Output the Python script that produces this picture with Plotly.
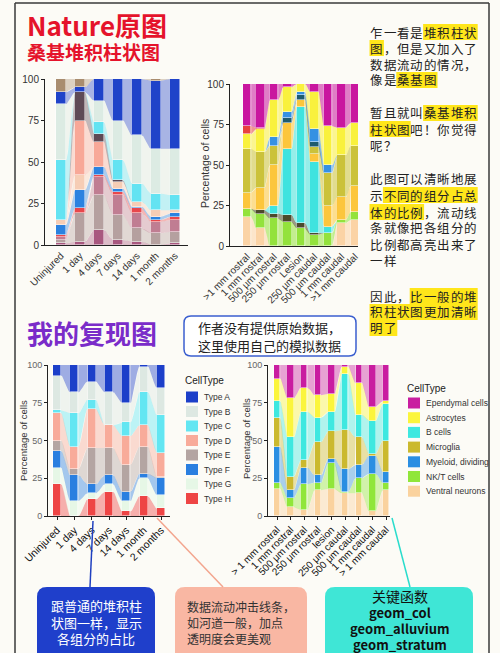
import numpy as np
import plotly.graph_objects as go

W, H = 500, 653

# ---------------- data ----------------
# Chart 1: Nature original (time course)
nat_cats = ["Uninjured", "1 day", "4 days", "7 days", "14 days", "1 month", "2 months"]
nat_groups = ["Dark mauve", "Rosy", "Mauve", "Red", "Blue", "Peach", "Salmon",
              "Dark grey", "Cyan", "Mint", "Dark blue", "Tan"]          # bottom -> top
nat_colors = ["#a8577f", "#b5a09f", "#c07d92", "#e8474c", "#2b82e0", "#f6cdb5",
              "#f8a898", "#5e4a56", "#63e3f2", "#dcebe3", "#1f43c9", "#a98d6f"]
nat_vals = [
    [1, 2, 9, 3, 2, 0, 1],
    [2, 17, 21, 15, 8, 7, 7],
    [2, 0, 11, 12, 9, 7, 7],
    [1, 3, 1, 2, 3, 1, 2],
    [6, 11, 5, 2, 1, 2, 2],
    [3, 9, 0, 4, 3, 4, 2],
    [0, 33, 15, 0, 0, 0, 0],
    [0, 17, 5, 1, 0, 0, 0],
    [36, 0, 7, 12, 11, 10, 9],
    [34, 0, 13, 24, 29, 27, 28],
    [7, 3, 13, 25, 34, 41, 42],
    [8, 5, 0, 0, 0, 1, 0],
]

# Chart 2: Nature original (position)
pos_cats = [">1 mm rostral", "1 mm rostral", "500 µm rostral", "250 µm rostral", "Lesion",
            "250 µm caudal", "500 µm caudal", "1 mm caudal", ">1 mm caudal"]
pos_groups = ["Peach", "Green", "Dark", "Cyan", "Gold", "Olive", "Teal", "Blue",
              "Yellow", "Red", "Magenta"]                                   # bottom -> top
pos_colors = ["#fbd3a5", "#93e23c", "#4b4a2c", "#3fe3df", "#fcc63c", "#cbc23a",
              "#1f5b6e", "#3591e3", "#f9f13d", "#e8423f", "#c9169f"]
pos_vals = [
    [18, 11, 0, 0, 0, 0, 0, 14, 16],
    [5, 9, 17, 15, 11, 7, 8, 2, 5],
    [0, 2, 3, 4, 3, 1, 0, 0, 0],
    [0, 0, 5, 41, 72, 44, 4, 0, 0],
    [10, 14, 25, 16, 4, 5, 13, 14, 16],
    [27, 22, 12, 0, 0, 4, 20, 26, 25],
    [0, 0, 0, 3, 3, 3, 0, 0, 0],
    [0, 0, 5, 4, 2, 8, 5, 0, 0],
    [9, 14, 23, 15, 5, 23, 24, 17, 14],
    [5, 1, 0, 0, 0, 0, 0, 0, 0],
    [26, 27, 10, 2, 0, 5, 26, 27, 24],
]

# Chart 3: reproduction (time course)
rep_cats = ["Uninjured", "1 day", "4 days", "7 days", "14 days", "1 month", "2 months"]
rep_types = ["Type A", "Type B", "Type C", "Type D", "Type E", "Type F", "Type G", "Type H"]
rep_colors = ["#1c3fc9", "#dde8e2", "#63e6f2", "#f8ab9a", "#b4a5a2", "#2a7fe0", "#e6f7e6", "#ee4545"]
rep_vals = [
    [7, 18, 11, 18, 25, 1, 15],
    [23, 14, 12, 22, 13, 17, 18],
    [2, 22, 6, 0, 9, 22, 25],
    [18, 15, 26, 15, 19, 14, 16],
    [7, 4, 24, 18, 18, 18, 1],
    [11, 17, 6, 6, 6, 3, 11],
    [11, 10, 4, 5, 7, 12, 9],
    [21, 0, 11, 16, 3, 13, 5],
]

# Chart 4: reproduction (position)
cell_cats = ["> 1 mm rostral", "1 mm rostral", "500 μm rostral", "250 μm rostral", "lesion",
             "250 μm caudal", "500 μm caudal", "1 mm caudal", "> 1 mm caudal"]
cell_types = ["Ependymal cells", "Astrocytes", "B cells", "Microglia", "Myeloid, dividing",
              "NK/T cells", "Ventral neurons"]
cell_colors = ["#c91da0", "#fbf53c", "#3ee8e0", "#cbb92e", "#2a8ee2", "#90e63a", "#fad29e"]
cell_vals = [
    [9, 22, 15, 20, 19, 1, 12, 28, 24],
    [15, 26, 16, 15, 12, 5, 21, 9, 2],
    [11, 26, 32, 16, 13, 37, 15, 22, 24],
    [19, 9, 5, 22, 18, 26, 18, 1, 21],
    [24, 5, 11, 5, 3, 15, 9, 12, 7],
    [4, 6, 17, 5, 17, 1, 10, 25, 5],
    [18, 6, 4, 17, 18, 15, 15, 3, 17],
]

# ---------------- helpers ----------------
def PX(x):
    return x / W

def PY(y):
    return 1 - y / H

def rgba(hexc, a):
    h = hexc.lstrip("#")
    r, g, b = int(h[0:2], 16), int(h[2:4], 16), int(h[4:6], 16)
    return f"rgba({r},{g},{b},{a})"

fig = go.Figure()

def add_alluvial(cats, colors, vals, width, alpha, xa, ya, lw=0.5):
    n = len(cats)
    V = np.array(vals, float)
    cum = np.cumsum(V, axis=0)
    bot = cum - V
    t = np.linspace(0, 1, 32)
    s = (1 - np.cos(np.pi * t)) / 2
    for g in range(V.shape[0]):
        xs, ys = [], []
        for i in range(n - 1):
            if V[g, i] == 0 and V[g, i + 1] == 0:
                continue
            x0, x1 = i + width / 2, i + 1 - width / 2
            xx = x0 + (x1 - x0) * t
            top = cum[g, i] + (cum[g, i + 1] - cum[g, i]) * s
            lo = bot[g, i] + (bot[g, i + 1] - bot[g, i]) * s
            xs += list(xx) + list(xx[::-1]) + [None]
            ys += list(top) + list(lo[::-1]) + [None]
        if xs:
            fig.add_trace(go.Scatter(x=xs, y=ys, mode="lines", fill="toself",
                                     fillcolor=rgba(colors[g], alpha), line=dict(width=0),
                                     hoverinfo="skip", showlegend=False, xaxis=xa, yaxis=ya))
    for g in range(V.shape[0]):
        yv = [v if v > 0 else None for v in V[g]]
        fig.add_trace(go.Bar(x=list(range(n)), y=yv, width=width,
                             marker=dict(color=colors[g], line=dict(color="white", width=lw)),
                             hoverinfo="skip", showlegend=False, xaxis=xa, yaxis=ya))

# layout boxes in pixels: x-span, y-span(top,bottom), first/last bar centre
L1 = dict(x=(45, 188), y=(79, 245), c=(61, 175))
L2 = dict(x=(230, 358), y=(84, 246), c=(247, 355))
L3 = dict(x=(48, 170), y=(365, 516), c=(57, 161))
L4 = dict(x=(268, 390), y=(365, 516), c=(277, 386))

add_alluvial(nat_cats, nat_colors, nat_vals, 0.5, 0.38, "x", "y")
add_alluvial(pos_cats, pos_colors, pos_vals, 0.62, 0.55, "x2", "y2")
add_alluvial(rep_cats, rep_colors[::-1], rep_vals[::-1], 0.46, 0.42, "x3", "y3")
add_alluvial(cell_cats, cell_colors[::-1], cell_vals[::-1], 0.46, 0.4, "x4", "y4")

AX_FONT = "Liberation Sans, Arial, sans-serif"
CJK = "Noto Sans CJK SC"

def xaxis(L, cats, fs, fc, ticks, anchor):
    n = len(cats)
    sp = (L["c"][1] - L["c"][0]) / (n - 1)
    rng = [(L["x"][0] - L["c"][0]) / sp, (L["x"][1] - L["c"][0]) / sp]
    return dict(domain=[PX(L["x"][0]), PX(L["x"][1])], range=rng, anchor=anchor,
                tickmode="array", tickvals=list(range(n)), ticktext=cats, tickangle=-45,
                showline=True, linecolor="#222", linewidth=1, showgrid=False, zeroline=False,
                ticks=ticks, ticklen=3, tickcolor="#222", automargin=False,
                tickfont=dict(family=AX_FONT, size=fs, color=fc), fixedrange=True)

def yaxis(L, fs, fc, anchor):
    return dict(domain=[PY(L["y"][1]), PY(L["y"][0])], range=[0, 100], anchor=anchor,
                tickmode="array", tickvals=[0, 25, 50, 75, 100],
                showline=True, linecolor="#222", linewidth=1, showgrid=False, zeroline=False,
                ticks="outside", ticklen=3, tickcolor="#222", automargin=False,
                tickfont=dict(family=AX_FONT, size=fs, color=fc), fixedrange=True)

annotations = []
shapes = []

def text(x, y, s, size, color="#222", family=CJK, xanchor="left", bg=None, angle=0):
    a = dict(x=PX(x), y=PY(y), xref="paper", yref="paper", text=s, showarrow=False,
             xanchor=xanchor, yanchor="middle", font=dict(family=family, size=size, color=color),
             borderpad=0, borderwidth=0, textangle=angle)
    if bg:
        a["bgcolor"] = bg
    annotations.append(a)

# titles
text(27, 25, "<b>Nature原图</b>", 26, "#e5132b")
text(27, 52, "<b>桑基堆积柱状图</b>", 19, "#e5132b")
text(27, 332, "<b>我的复现图</b>", 26, "#7a2cc9")

# right-hand commentary with highlighted segments (one glyph per cell)
HL = "#ffe61a"
lines = [
    (32, "乍一看是[堆积柱状]"), (48, "[图]，但是又加入了"), (64, "数据流动的情况，"),
    (80, "像是[桑基图]"), (113, "暂且就叫[桑基堆积]"), (129, "[柱状图]吧！你觉得"),
    (145, "呢？"), (179, "此图可以清晰地展"), (195, "示[不同的组分占总]"),
    (212, "[体的比例]，流动线"), (228, "条就像把各组分的"), (244, "比例都高亮出来了"),
    (260, "一样"), (296, "因此，[比一般的堆]"), (312, "[积柱状图更加清晰]"), (328, "[明了]"),
]
PITCH = 13.4
X0 = 370
for yy, ln in lines:
    i = 0
    hl_start = None
    for ch in ln:
        if ch == "[":
            hl_start = i
        elif ch == "]":
            shapes.append(dict(type="rect", xref="paper", yref="paper", layer="below",
                               x0=PX(X0 + hl_start * PITCH - 0.5), x1=PX(X0 + i * PITCH + 0.5),
                               y0=PY(yy + 8), y1=PY(yy - 8), fillcolor=HL, line=dict(width=0)))
            hl_start = None
        else:
            text(X0 + (i + 0.5) * PITCH, yy, ch, 12.5, "#222", xanchor="center")
            i += 1

# note box
def rrect(x0, y0, x1, y1, r):
    def P(x, y):
        return f"{x / W:.5f},{1 - y / H:.5f}"
    return (f"M {P(x0 + r, y0)} L {P(x1 - r, y0)} Q {P(x1, y0)} {P(x1, y0 + r)} "
            f"L {P(x1, y1 - r)} Q {P(x1, y1)} {P(x1 - r, y1)} L {P(x0 + r, y1)} "
            f"Q {P(x0, y1)} {P(x0, y1 - r)} L {P(x0, y0 + r)} Q {P(x0, y0)} {P(x0 + r, y0)} Z")

shapes.append(dict(type="path", xref="paper", yref="paper", path=rrect(184, 316, 356, 356, 7),
                   line=dict(color="#3b5fcf", width=1.5), fillcolor="#ffffff", layer="below"))
text(198, 328, "作者没有提供原始数据，", 13, "#222")
text(198, 345, "这里使用自己的模拟数据", 13, "#222")

# y-axis titles
text(205, 164, "Percentage of cells", 10.5, "#333", AX_FONT, "center", angle=-90)
text(23, 441, "Percentage of cells", 9.5, "#333", AX_FONT, "center", angle=-90)
text(246, 439, "Percentage of cells", 9.5, "#333", AX_FONT, "center", angle=-90)

# manual legends
def legend(x, ytitle, y0, step, names, colors):
    text(x, ytitle, "CellType", 10, "#222", AX_FONT)
    for k, (nm, c) in enumerate(zip(names, colors)):
        yc = y0 + k * step
        shapes.append(dict(type="rect", xref="paper", yref="paper", x0=PX(x + 1), x1=PX(x + 13),
                           y0=PY(yc + 5.5), y1=PY(yc - 5.5), fillcolor=c, line=dict(width=0)))
        text(x + 19, yc, nm, 8.5, "#333", AX_FONT)

legend(185, 380, 397, 14.5, rep_types, rep_colors)
legend(407, 388, 403, 14.7, cell_types, cell_colors)

# bottom callout boxes
shapes.append(dict(type="path", xref="paper", yref="paper", path=rrect(37, 587, 155, 668, 10),
                   line=dict(width=0), fillcolor="#1f3fcb"))
shapes.append(dict(type="path", xref="paper", yref="paper", path=rrect(175, 587, 307, 668, 10),
                   line=dict(width=0), fillcolor="#f9b7a3"))
shapes.append(dict(type="path", xref="paper", yref="paper", path=rrect(325, 587, 473, 668, 10),
                   line=dict(width=0), fillcolor="#3fe6d6"))
for yy, s in [(605, "跟普通的堆积柱"), (622, "状图一样，显示"), (638, "各组分的占比")]:
    text(96, yy, s, 13, "#ffffff", xanchor="center")
for yy, s in [(606, "数据流动冲击线条，"), (622, "如河道一般，加点"), (638, "透明度会更美观")]:
    text(187, yy, s, 12, "#333333")
text(400, 596, "关键函数", 14, "#111", xanchor="center")
for yy, s in [(612, "geom_col"), (628, "geom_alluvium"), (644, "geom_stratum")]:
    text(400, yy, f"<b>{s}</b>", 13, "#111", xanchor="center")

# connector lines
for (x0, y0, x1, y1, c) in [(90, 587, 93, 521, "#2040c0"), (223, 587, 157, 518, "#f3a58e"),
                            (410, 587, 392, 518, "#2adccc")]:
    shapes.append(dict(type="line", xref="paper", yref="paper", x0=PX(x0), y0=PY(y0),
                       x1=PX(x1), y1=PY(y1), line=dict(color=c, width=1.5)))

# outer frame
for (x0, y0, x1, y1) in [(15, 3, 15, 660), (15, 3, 489, 3), (489, 3, 489, 660)]:
    shapes.append(dict(type="line", xref="paper", yref="paper", x0=PX(x0), y0=PY(y0),
                       x1=PX(x1), y1=PY(y1), line=dict(color="#3a3a3a", width=1.5)))

fig.update_layout(
    width=W, height=H, margin=dict(l=0, r=0, t=0, b=0, pad=0, autoexpand=False),
    paper_bgcolor="#fcfbf6", plot_bgcolor="rgba(0,0,0,0)",
    barmode="stack", bargap=0, showlegend=False,
    xaxis=xaxis(L1, nat_cats, 10, "#333", "", "y"),
    yaxis=yaxis(L1, 10, "#333", "x"),
    xaxis2=xaxis(L2, pos_cats, 10, "#333", "", "y2"),
    yaxis2=yaxis(L2, 10, "#333", "x2"),
    xaxis3=xaxis(L3, rep_cats, 10.5, "#111", "outside", "y3"),
    yaxis3=yaxis(L3, 9, "#666", "x3"),
    xaxis4=xaxis(L4, cell_cats, 10, "#111", "outside", "y4"),
    yaxis4=yaxis(L4, 9, "#666", "x4"),
    annotations=annotations, shapes=shapes,
)

fig.write_html("out.html", config={"responsive": False, "displayModeBar": False})
